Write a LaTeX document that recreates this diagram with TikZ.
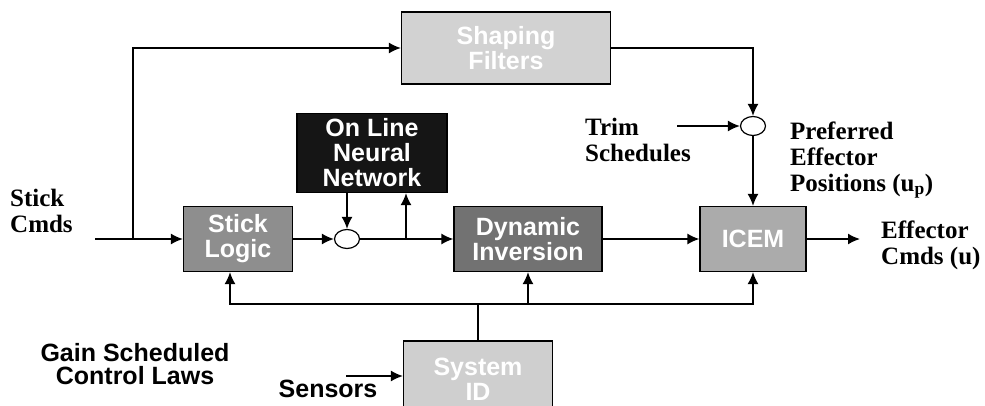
\documentclass[tikz,border=0pt]{standalone}
\usepackage{fontspec}
\setmainfont{Liberation Serif}
\setsansfont{Liberation Sans}
\usetikzlibrary{arrows.meta,shapes.geometric}

\definecolor{shapefill}{HTML}{D2D2D2}
\definecolor{nnfill}{HTML}{151515}
\definecolor{stickfill}{HTML}{8E8E8E}
\definecolor{dynfill}{HTML}{727272}
\definecolor{icemfill}{HTML}{ABABAB}
\definecolor{sysfill}{HTML}{CFCFCF}

\begin{document}
\begin{tikzpicture}[x=1pt,y=-1pt,
  block/.style={draw, line width=1.2pt, minimum height=65pt, inner sep=2pt, align=center, text=white,
    font=\sffamily\bfseries\fontsize{25}{25}\selectfont},
  sum/.style={draw, ellipse, line width=1.2pt, minimum width=25pt, minimum height=19pt, inner sep=0pt},
  sig/.style={line width=1.6pt, -{Latex[length=12pt,width=11pt]}},
  lbl/.style={align=left, inner sep=0pt, font=\bfseries\fontsize{25}{26}\selectfont},
  slbl/.style={align=center, inner sep=0pt, font=\sffamily\bfseries\fontsize{25}{23}\selectfont}]
\useasboundingbox (0,0) rectangle (985,405);
\clip (0,0) rectangle (985,405);

% Blocks
\node[block, fill=shapefill, minimum width=209pt, minimum height=72pt] (shaping) at (506,48) {Shaping\\Filters};
\node[block, fill=nnfill, minimum width=150pt, minimum height=79pt] (nn) at (372,153) {On Line\\Neural\\Network};
\node[block, fill=stickfill, minimum width=109pt] (stick) at (238,239) {Stick\\Logic};
\node[block, fill=dynfill, minimum width=148pt] (dyn) at (528,239) {Dynamic\\Inversion};
\node[block, fill=icemfill, minimum width=106pt] (icem) at (753,239) {ICEM};
\node[block, fill=sysfill, minimum width=149pt, minimum height=76pt] (sysid) at (478,379) {System\\ID};

% Summing junctions
\node[sum] (sum1) at (347,239) {};
\node[sum] (sum2) at (753,126) {};

% Free ends and branch points
\coordinate (cmd) at (95,239);
\coordinate (split) at (133,239);
\coordinate (tap) at (406,239);
\coordinate (trim) at (677,126);
\coordinate (out) at (860,239);
\coordinate (bus) at (478,304);
\coordinate (sens) at (346,376);

% Forward path
\draw[sig] (cmd) -- (stick.west);
\draw[sig] (split) |- (shaping.west);
\draw[sig] (stick.east) -- (sum1.west);
\draw[sig] (sum1 |- nn.south) -- (sum1.north);
\draw[sig] (sum1.east) -- (dyn.west);
\draw[sig] (tap) -- (tap |- nn.south);
\draw[sig] (dyn.east) -- (icem.west);
\draw[sig] (icem.east) -- (out);

% Effector preference path
\draw[sig] (shaping.east) -| (sum2.north);
\draw[sig] (trim) -- (sum2.west);
\draw[sig] (sum2.south) -- (icem.north);

% Feedback from system ID
\draw[line width=1.6pt] (sysid.north) -- (bus);
\draw[sig] (bus) -| ([xshift=-8pt]stick.south);
\draw[sig] (bus) -| (icem.south);
\draw[sig] (dyn.south |- bus) -- (dyn.south);
\draw[sig] (sens) -- (sens -| sysid.west);

% Labels
\node[lbl, anchor=west] (stickcmds) at (10,211) {Stick\\Cmds};
\node[lbl, anchor=west] (trimlbl) at (585,140) {Trim\\Schedules};
\node[lbl, anchor=west] (preflbl) at (790,160) {Preferred\\Effector\\Positions (u\textsubscript{p})};
\node[lbl, anchor=west] (efflbl) at (881,245) {Effector\\Cmds (u)};
\node[slbl] (gainlbl) at (135,364) {Gain Scheduled\\Control Laws};
\node[slbl] (senslbl) at (328,389) {Sensors};
\end{tikzpicture}
\end{document}
